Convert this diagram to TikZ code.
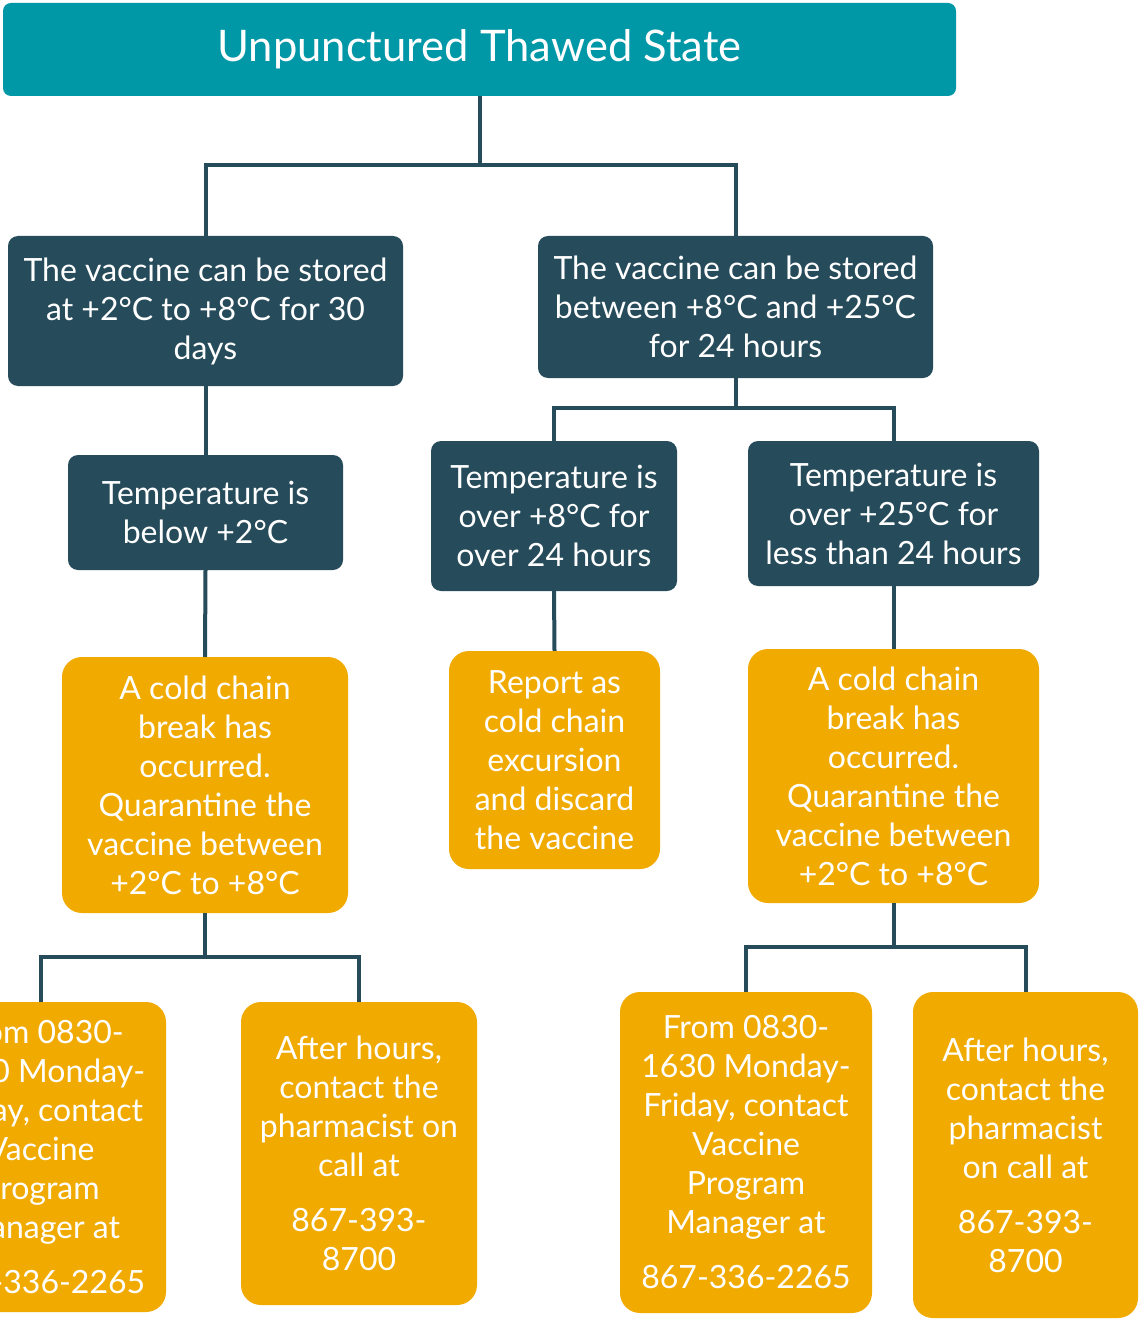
\documentclass[tikz,border=0pt]{standalone}
\usepackage{fontspec}
\setmainfont{Lato}
\usetikzlibrary{positioning}
\definecolor{teal}{RGB}{0,151,167}
\definecolor{darkb}{RGB}{38,75,90}
\definecolor{orng}{RGB}{240,170,0}
\tikzset{
  base/.style={rectangle, inner sep=0pt, align=center, text=white, font=\fontsize{32}{39}\selectfont},
  darkbox/.style={base, fill=darkb, rounded corners=10pt},
  orbox/.style={base, fill=orng, rounded corners=20pt},
  conn/.style={draw=darkb, line width=4pt}
}
\newcommand{\bx}[6]{\node[#1, minimum width=#4pt, minimum height=#5pt] (#6) at (#2,#3)}
\begin{document}
\begin{tikzpicture}[x=1pt,y=-1pt]
\useasboundingbox (0,0) rectangle (1139,1321);
\clip (0,0) rectangle (1139,1321);
\fill[white] (0,0) rectangle (1139,1321);
\node[base, fill=teal, rounded corners=8pt, minimum width=953pt, minimum height=93pt, font=\fontsize{43.5}{50}\selectfont] (T) at (479.5,49.5) {Unpunctured Thawed State};
\bx{darkbox}{205.5}{311}{395}{150}{A} {The vaccine can be stored\\at +2°C to +8°C for 30\\days};
\bx{darkbox}{735.5}{307}{395}{142}{B} {The vaccine can be stored\\between +8°C and +25°C\\for 24 hours};
\bx{darkbox}{205.5}{512.5}{275}{115}{C} {Temperature is\\below +2°C};
\bx{darkbox}{554}{516}{246}{150}{D} {Temperature is\\over +8°C for\\over 24 hours};
\bx{darkbox}{893.5}{513.5}{291}{145}{E} {Temperature is\\over +25°C for\\less than 24 hours};
\bx{orbox}{205}{785}{286}{256}{F} {A cold chain\\break has\\occurred.\\Quarantine the\\vaccine between\\+2°C to +8°C};
\bx{orbox}{554.5}{760}{211}{218}{G} {Report as\\cold chain\\excursion\\and discard\\the vaccine};
\bx{orbox}{893.5}{776}{291}{254}{H} {A cold chain\\break has\\occurred.\\Quarantine the\\vaccine between\\+2°C to +8°C};
\bx{orbox}{40.5}{1157}{251}{310}{I} {From 0830-\\1630 Monday-\\Friday, contact\\Vaccine\\Program\\Manager at\\[16pt]867-336-2265};
\bx{orbox}{359}{1153.5}{236}{303}{K} {After hours,\\contact the\\pharmacist on\\call at\\[16pt]867-393-\\8700};
\bx{orbox}{746}{1152.5}{252}{321}{J} {From 0830-\\1630 Monday-\\Friday, contact\\Vaccine\\Program\\Manager at\\[16pt]867-336-2265};
\bx{orbox}{1025.5}{1155}{225}{326}{L} {After hours,\\contact the\\pharmacist\\on call at\\[16pt]867-393-\\8700};
% connectors
\coordinate (t1) at (T.south |- 0,165);
\draw[conn] (T.south) -- (t1);
\draw[conn] (t1) -| (A.north);
\draw[conn] (t1) -| (B.north);
\draw[conn] (A.south) -- (C.north);
\coordinate (b1) at (B.south |- 0,408);
\draw[conn] (B.south) -- (b1);
\draw[conn] (b1) -| (D.north);
\draw[conn] (b1) -| (E.north);
\draw[conn] (C.south) -- (F.north);
\draw[conn] (D.south) -- (G.north);
\draw[conn] (E.south) -- (H.north);
\coordinate (f1) at (F.south |- 0,957);
\draw[conn] (F.south) -- (f1);
\draw[conn] (f1) -| (I.north);
\draw[conn] (f1) -| (K.north);
\coordinate (h1) at (H.south |- 0,947);
\draw[conn] (H.south) -- (h1);
\draw[conn] (h1) -| (J.north);
\draw[conn] (h1) -| (L.north);
\end{tikzpicture}
\end{document}
